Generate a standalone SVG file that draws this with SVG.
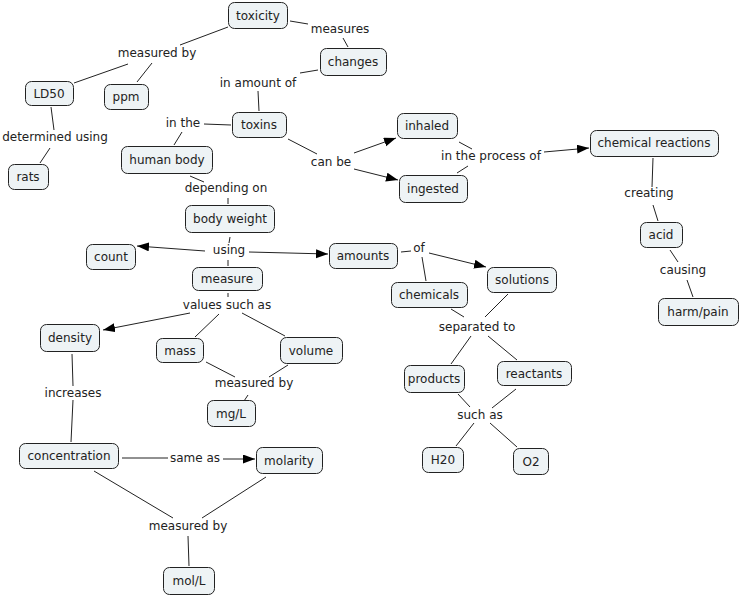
<svg xmlns="http://www.w3.org/2000/svg" width="740" height="596" viewBox="0 0 740 596">
<style>
.n rect{fill:#eef3f5;stroke:#222;stroke-width:1}
text{font-family:"DejaVu Sans",Verdana,sans-serif;font-size:12px;fill:#222;text-anchor:middle}
.c line{stroke:#222;stroke-width:1}
.bg{fill:#fff}
</style>
<defs>
<marker id="a" markerUnits="userSpaceOnUse" markerWidth="13" markerHeight="10" refX="12" refY="4.5" orient="auto"><path d="M0,0 L12,4.5 L0,9 z" fill="#000"/></marker>
</defs>
<rect class="bg" width="740" height="596"/>
<g class="c" id="connectors">
<line x1="228" y1="27" x2="180" y2="45"/>
<line x1="128" y1="64" x2="74" y2="83"/>
<line x1="152" y1="63" x2="137" y2="82"/>
<line x1="290" y1="21" x2="308" y2="24"/>
<line x1="343" y1="38" x2="348" y2="47"/>
<line x1="318" y1="70" x2="300" y2="73"/>
<line x1="258" y1="91" x2="259" y2="111"/>
<line x1="231" y1="125" x2="204" y2="124"/>
<line x1="182" y1="132" x2="174" y2="145"/>
<line x1="51" y1="107" x2="54" y2="130"/>
<line x1="50" y1="148" x2="40" y2="163"/>
<line x1="288" y1="139" x2="317" y2="154"/>
<line x1="354" y1="153" x2="396" y2="138" marker-end="url(#a)"/>
<line x1="354" y1="169" x2="398" y2="180" marker-end="url(#a)"/>
<line x1="190" y1="176" x2="204" y2="182"/>
<line x1="228" y1="198" x2="228" y2="204"/>
<line x1="459" y1="142" x2="472" y2="149"/>
<line x1="457" y1="173" x2="468" y2="166"/>
<line x1="544" y1="152" x2="589" y2="148" marker-end="url(#a)"/>
<line x1="653" y1="158" x2="652" y2="187"/>
<line x1="653" y1="205" x2="658" y2="221"/>
<line x1="670" y1="250" x2="678" y2="262"/>
<line x1="687" y1="280" x2="693" y2="297"/>
<line x1="230" y1="237" x2="229" y2="243"/>
<line x1="205" y1="251" x2="137" y2="246" marker-end="url(#a)"/>
<line x1="249" y1="252" x2="328" y2="254" marker-end="url(#a)"/>
<line x1="228" y1="260" x2="228" y2="266"/>
<line x1="228" y1="293" x2="228" y2="297"/>
<line x1="190" y1="313" x2="103" y2="330" marker-end="url(#a)"/>
<line x1="219" y1="314" x2="195" y2="337"/>
<line x1="242" y1="313" x2="285" y2="336"/>
<line x1="206" y1="362" x2="235" y2="377"/>
<line x1="288" y1="365" x2="269" y2="377"/>
<line x1="248" y1="395" x2="244" y2="401"/>
<line x1="72" y1="354" x2="73" y2="386"/>
<line x1="73" y1="400" x2="71" y2="442"/>
<line x1="401" y1="252" x2="411" y2="251"/>
<line x1="429" y1="253" x2="486" y2="267" marker-end="url(#a)"/>
<line x1="422" y1="257" x2="426" y2="281"/>
<line x1="451" y1="309" x2="464" y2="317"/>
<line x1="508" y1="294" x2="485" y2="317"/>
<line x1="471" y1="336" x2="451" y2="364"/>
<line x1="488" y1="336" x2="517" y2="360"/>
<line x1="458" y1="394" x2="470" y2="407"/>
<line x1="516" y1="389" x2="492" y2="408"/>
<line x1="474" y1="423" x2="456" y2="446"/>
<line x1="490" y1="423" x2="517" y2="447"/>
<line x1="122" y1="458" x2="168" y2="458"/>
<line x1="223" y1="459" x2="255" y2="459" marker-end="url(#a)"/>
<line x1="94" y1="471" x2="173" y2="518"/>
<line x1="266" y1="477" x2="202" y2="518"/>
<line x1="188" y1="536" x2="189" y2="566"/>
</g>
<g id="linking-phrases">
<text x="157" y="57">measured by</text>
<text x="340" y="33">measures</text>
<text x="258" y="87">in amount of</text>
<text x="183" y="127">in the</text>
<text x="55" y="141">determined using</text>
<text x="331" y="166">can be</text>
<text x="226" y="192">depending on</text>
<text x="491" y="160">in the process of</text>
<text x="649" y="197">creating</text>
<text x="683" y="274">causing</text>
<text x="419" y="252">of</text>
<text x="229" y="254">using</text>
<text x="227" y="309">values such as</text>
<text x="73" y="397">increases</text>
<text x="254" y="387">measured by</text>
<text x="477" y="331">separated to</text>
<text x="480" y="419">such as</text>
<text x="195" y="462">same as</text>
<text x="188" y="530">measured by</text>
</g>
<g class="n" id="toxicity"><rect x="228.5" y="2.5" width="59" height="26" rx="6"/><text x="258" y="20">toxicity</text></g>
<g class="n" id="changes"><rect x="320.5" y="48.5" width="66" height="27" rx="6"/><text x="353" y="66">changes</text></g>
<g class="n" id="LD50"><rect x="25.5" y="81.5" width="48" height="24" rx="6"/><text x="49" y="98">LD50</text></g>
<g class="n" id="ppm"><rect x="104.5" y="84.5" width="44" height="25" rx="6"/><text x="126" y="101">ppm</text></g>
<g class="n" id="toxins"><rect x="232.5" y="112.5" width="54" height="25" rx="6"/><text x="259" y="129">toxins</text></g>
<g class="n" id="human-body"><rect x="121.5" y="146.5" width="91" height="27" rx="6"/><text x="167" y="164">human body</text></g>
<g class="n" id="rats"><rect x="8.5" y="164.5" width="40" height="25" rx="6"/><text x="28" y="181">rats</text></g>
<g class="n" id="inhaled"><rect x="397.5" y="113.5" width="60" height="25" rx="6"/><text x="427" y="130">inhaled</text></g>
<g class="n" id="ingested"><rect x="399.5" y="175.5" width="68" height="27" rx="6"/><text x="433" y="193">ingested</text></g>
<g class="n" id="chemical-reactions"><rect x="590.5" y="130.5" width="128" height="26" rx="6"/><text x="654" y="147">chemical reactions</text></g>
<g class="n" id="acid"><rect x="640.5" y="222.5" width="42" height="25" rx="6"/><text x="661" y="239">acid</text></g>
<g class="n" id="harm-pain"><rect x="658.5" y="298.5" width="80" height="27" rx="6"/><text x="698" y="316">harm/pain</text></g>
<g class="n" id="body-weight"><rect x="185.5" y="205.5" width="89" height="27" rx="6"/><text x="230" y="223">body weight</text></g>
<g class="n" id="count"><rect x="86.5" y="244.5" width="49" height="25" rx="6"/><text x="111" y="261">count</text></g>
<g class="n" id="amounts"><rect x="329.5" y="243.5" width="68" height="25" rx="6"/><text x="363" y="260">amounts</text></g>
<g class="n" id="measure"><rect x="192.5" y="267.5" width="70" height="23" rx="6"/><text x="227" y="283">measure</text></g>
<g class="n" id="density"><rect x="40.5" y="324.5" width="59" height="27" rx="6"/><text x="70" y="342">density</text></g>
<g class="n" id="mass"><rect x="156.5" y="338.5" width="47" height="24" rx="6"/><text x="180" y="355">mass</text></g>
<g class="n" id="volume"><rect x="280.5" y="337.5" width="62" height="26" rx="6"/><text x="311" y="355">volume</text></g>
<g class="n" id="mg-L"><rect x="207.5" y="400.5" width="48" height="26" rx="6"/><text x="231" y="418">mg/L</text></g>
<g class="n" id="solutions"><rect x="487.5" y="267.5" width="69" height="25" rx="6"/><text x="522" y="284">solutions</text></g>
<g class="n" id="chemicals"><rect x="391.5" y="282.5" width="76" height="25" rx="6"/><text x="429" y="299">chemicals</text></g>
<g class="n" id="products"><rect x="404.5" y="365.5" width="60" height="27" rx="6"/><text x="434" y="383">products</text></g>
<g class="n" id="reactants"><rect x="497.5" y="361.5" width="74" height="24" rx="6"/><text x="534" y="378">reactants</text></g>
<g class="n" id="H20"><rect x="422.5" y="447.5" width="41" height="25" rx="6"/><text x="443" y="464">H20</text></g>
<g class="n" id="O2"><rect x="513.5" y="448.5" width="35" height="26" rx="6"/><text x="531" y="466">O2</text></g>
<g class="n" id="concentration"><rect x="19.5" y="443.5" width="99" height="25" rx="6"/><text x="69" y="460">concentration</text></g>
<g class="n" id="molarity"><rect x="256.5" y="447.5" width="66" height="26" rx="6"/><text x="289" y="465">molarity</text></g>
<g class="n" id="mol-L"><rect x="163.5" y="567.5" width="51" height="27" rx="6"/><text x="189" y="585">mol/L</text></g>
</svg>
